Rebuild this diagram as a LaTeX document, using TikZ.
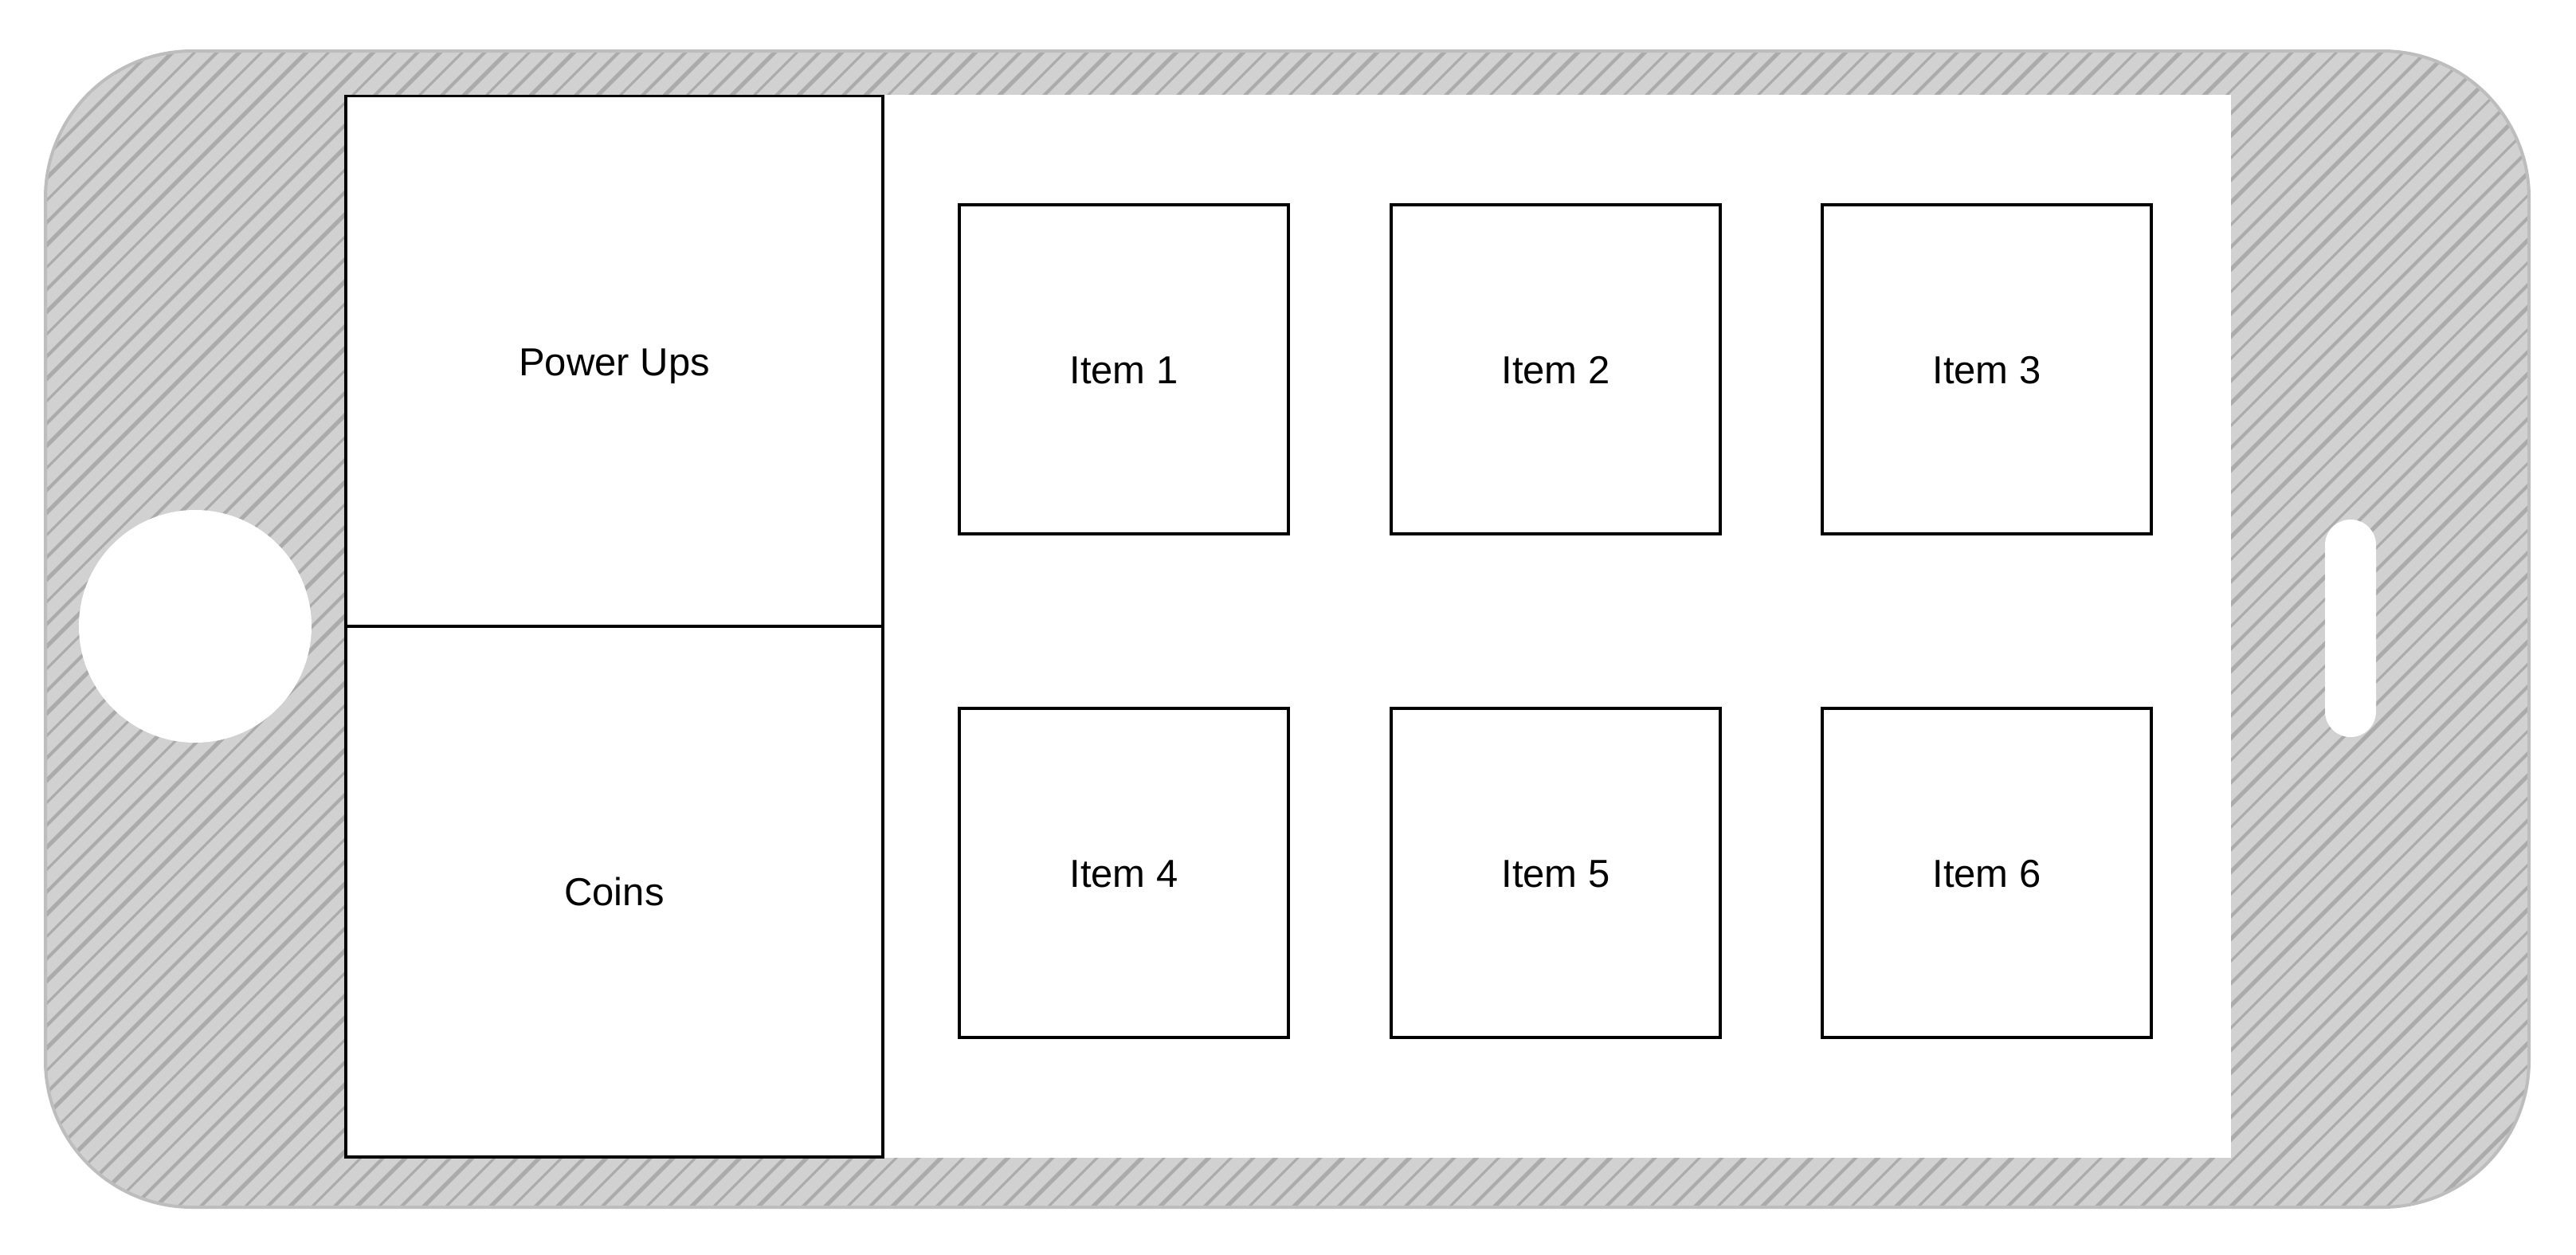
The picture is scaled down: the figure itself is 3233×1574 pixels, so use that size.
\documentclass[tikz,border=0pt]{standalone}
\usepackage{fontspec}
\setmainfont{Liberation Sans}
\definecolor{hatchfill}{HTML}{D1D1D1}
\definecolor{hatchline}{HTML}{ABABAB}
\definecolor{phoneedge}{HTML}{BDBDBD}
\tikzset{
  box/.style={draw=black, line width=1.8pt, fill=white, inner sep=0pt,
    font=\fontsize{24.5pt}{29pt}\selectfont, text height=17.5pt, text depth=0pt},
  itembox/.style={box, minimum width=206.5pt, minimum height=206.5pt},
  sidebox/.style={box, minimum width=337pt, minimum height=333pt},
  hatch/.style={draw=hatchline},
  cutout/.style={fill=white, draw=none},
}
\begin{document}
\begin{tikzpicture}[x=0.5pt,y=-0.5pt]
\useasboundingbox (0,0) rectangle (3233,1574);
% phone body
\path[fill=hatchfill, rounded corners=92pt] (57,64) rectangle (3174,1515);
\begin{scope}
  \clip[rounded corners=92pt] (57,64) rectangle (3174,1515);
  \foreach \c [count=\i] in {-1600,-1572,...,3240} {
    \pgfmathsetmacro{\w}{mod(\i,3)==0 ? 2.6 : (mod(\i,3)==1 ? 1.5 : 2.0)}
    \draw[hatch, line width=\w pt] (\c,1574) -- ++(1574,-1574);
  }
\end{scope}
\draw[phoneedge, line width=2pt, rounded corners=92pt] (57,64) rectangle (3174,1515);
% screen
\fill[white] (432,119) rectangle (2800,1453);
% home button and speaker slot
\fill[white] (245,786) circle[radius=146];
\fill[white, rounded corners=16pt] (2918,652) rectangle (2982,925);
% side panels
\node[sidebox] (power) at (771,453.5) {Power Ups};
\node[sidebox] (coins) at (771,1119) {Coins};
% items
\node[itembox] (i1) at (1410.5,463.5) {Item 1};
\node[itembox] (i2) at (1952.5,463.5) {Item 2};
\node[itembox] (i3) at (2493.5,463.5) {Item 3};
\node[itembox] (i4) at (1410.5,1095.5) {Item 4};
\node[itembox] (i5) at (1952.5,1095.5) {Item 5};
\node[itembox] (i6) at (2493.5,1095.5) {Item 6};
\end{tikzpicture}
\end{document}
